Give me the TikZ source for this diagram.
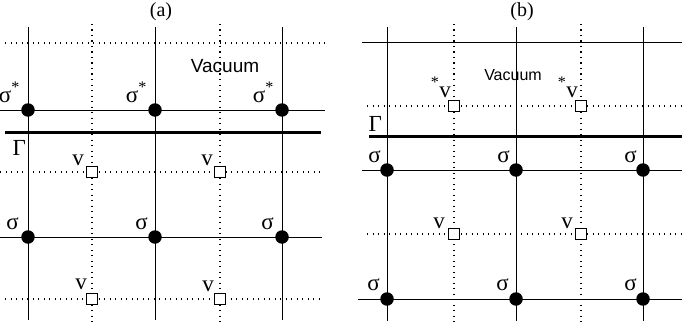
\documentclass[tikz,border=0pt]{standalone}
\usepackage{fontspec}
\setmainfont{Liberation Serif}
\newfontfamily\vacfont{Liberation Sans}
\usetikzlibrary{positioning}

\begin{document}
\begin{tikzpicture}[x=1pt, y=-1pt,
    site/.style={circle, fill=black, minimum size=13.5pt, inner sep=0pt},
    vsite/.style={draw, fill=white, minimum size=10.5pt, inner sep=0pt, line width=0.8pt},
    lab/.style={inner sep=0pt, anchor=base east, font=\fontsize{23}{23}\selectfont},
    ttl/.style={inner sep=0pt, font=\fontsize{20}{20}\selectfont},
    latline/.style={line width=1pt},
    dotline/.style={line width=1.1pt, dash pattern=on 1.1pt off 4.4pt},
    surf/.style={line width=3pt},
]
    \useasboundingbox (0,0) rectangle (682,329);

    % (a) lattice
    \node[ttl] (ta) at (161,12) {(a)};
    \draw[latline] (28,27) -- (28,320) (155,27) -- (155,320) (282,27) -- (282,320);
    \draw[dotline] (92,24) -- (92,322) (220,24) -- (220,322);
    \draw[dotline] (5,43) -- (325,43);
    \draw[latline] (0,110) -- (325,110);
    \draw[surf] (5,132) -- (321,132);
    \draw[dotline] (0,172) -- (322,172);
    \draw[latline] (0,237) -- (322,237);
    \draw[dotline] (5,299) -- (322,299);

    \node[font=\vacfont\fontsize{19}{19}\selectfont] (vaca) at (225,66) {Vacuum};
    \node[lab] (ga) at (26,155) {Γ};

    \node[site] (sa1) at (28,110) {};
    \node[site] (sa2) at (155,110) {};
    \node[site] (sa3) at (282,110) {};
    \node[site] (sa4) at (28,237) {};
    \node[site] (sa5) at (155,237) {};
    \node[site] (sa6) at (282,237) {};
    \node[vsite] (va1) at (92,172) {};
    \node[vsite] (va2) at (220,172) {};
    \node[vsite] (va3) at (92,299) {};
    \node[vsite] (va4) at (220,299) {};

    \node[lab] at (20,102) {σ\textsuperscript{*}};
    \node[lab] at (147,102) {σ\textsuperscript{*}};
    \node[lab] at (274,102) {σ\textsuperscript{*}};
    \node[lab] at (19,229) {σ};
    \node[lab] at (148,229) {σ};
    \node[lab] at (274,229) {σ};
    \node[lab] at (84,165) {v};
    \node[lab] at (213,165) {v};
    \node[lab] at (87,289) {v};
    \node[lab] at (214,291) {v};

    % (b) lattice
    \node[ttl] (tb) at (522,12) {(b)};
    \draw[latline] (387,27) -- (387,321) (516,27) -- (516,321) (643,27) -- (643,321);
    \draw[dotline] (454,24) -- (454,322) (581,24) -- (581,322);
    \draw[latline] (362,43) -- (682,43);
    \draw[dotline] (367,106) -- (682,106);
    \draw[surf] (369,136) -- (682,136);
    \draw[latline] (362,170) -- (682,170);
    \draw[dotline] (367,234) -- (682,234);
    \draw[latline] (358,299) -- (682,299);

    \node[font=\vacfont\fontsize{16}{16}\selectfont] (vacb) at (513,75) {Vacuum};
    \node[lab] (gb) at (382,131) {Γ};

    \node[site] (sb1) at (387,170) {};
    \node[site] (sb2) at (516,170) {};
    \node[site] (sb3) at (643,170) {};
    \node[site] (sb4) at (387,299) {};
    \node[site] (sb5) at (516,299) {};
    \node[site] (sb6) at (643,299) {};
    \node[vsite] (vb1) at (454,106) {};
    \node[vsite] (vb2) at (581,106) {};
    \node[vsite] (vb3) at (454,234) {};
    \node[vsite] (vb4) at (581,234) {};

    \node[lab] at (381,162) {σ};
    \node[lab] at (510,162) {σ};
    \node[lab] at (637,162) {σ};
    \node[lab] at (380,290) {σ};
    \node[lab] at (509,290) {σ};
    \node[lab] at (637,290) {σ};
    \node[lab] at (451,97) {\textsuperscript{*}v};
    \node[lab] at (578,97) {\textsuperscript{*}v};
    \node[lab] at (445,228) {v};
    \node[lab] at (573,228) {v};
\end{tikzpicture}
\end{document}
